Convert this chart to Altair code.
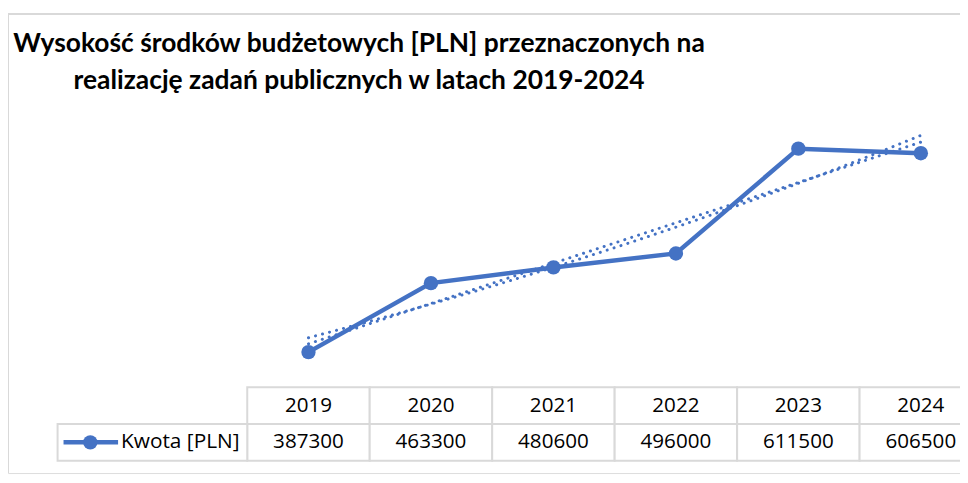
import altair as alt
import pandas as pd

# ---- data ----
years = [2019, 2020, 2021, 2022, 2023, 2024]
amounts = [387300, 463300, 480600, 496000, 611500, 606500]
series_name = "Kwota [PLN]"
title_lines = [
    "Wysokość środków budżetowych [PLN] przeznaczonych na",
    "realizację zadań publicznych w latach 2019-2024",
]

# ---- layout / style constants ----
BLUE = "#4472C4"
GRID = "#d9d9d9"
FONT = "Open Sans"
TITLE_FONT = "Lato"
W, H = 960, 463            # plot view (page x 8..968, y 12..475)
COL = 123.5                # px per year column
X0 = 2019 - (311.0 - 8) / COL
X1 = 2019 + (968 - 311.0) / COL


def px2x(page_px):
    return X0 + (page_px - 8) / COL


ROW_PX = 37.0
ROW_TOP = 376.5            # view px of table top
R0 = -ROW_TOP / ROW_PX
R1 = (H - ROW_TOP) / ROW_PX
Y_DOMAIN = [254000, 760000]
LEG_LEFT = px2x(58)

df = pd.DataFrame({"rok": years, "kwota": amounts})

xs = alt.Scale(domain=[X0, X1], nice=False, zero=False)
ys = alt.Scale(domain=Y_DOMAIN, nice=False, zero=False)
rs = alt.Scale(domain=[R0, R1], nice=False, zero=False, reverse=True)

base = alt.Chart(df)

trend_style = dict(color=BLUE, strokeWidth=3, strokeDash=[0.1, 7.2], strokeCap="round")
trend_lin = base.transform_regression("rok", "kwota", method="linear").mark_line(**trend_style).encode(
    x=alt.X("rok:Q", scale=xs, axis=None), y=alt.Y("kwota:Q", scale=ys, axis=None))
trend_exp = base.transform_regression("rok", "kwota", method="exp").mark_line(**trend_style).encode(
    x=alt.X("rok:Q", scale=xs, axis=None), y=alt.Y("kwota:Q", scale=ys, axis=None))

line = base.mark_line(color=BLUE, strokeWidth=4.5).encode(
    x=alt.X("rok:Q", scale=xs, axis=None), y=alt.Y("kwota:Q", scale=ys, axis=None))
pts = base.mark_point(filled=True, color=BLUE, size=210, opacity=1).encode(
    x=alt.X("rok:Q", scale=xs, axis=None), y=alt.Y("kwota:Q", scale=ys, axis=None))

# ---- data table under the chart ----
cells = pd.DataFrame({
    "x": [y - 0.5 for y in years] * 2 + [LEG_LEFT],
    "x2": [y + 0.5 for y in years] * 2 + [2018.5],
    "r": [0] * 6 + [1] * 6 + [1],
    "r2": [1] * 6 + [2] * 6 + [2],
})
cell_rects = alt.Chart(cells).mark_rect(fill="white", stroke=GRID, strokeWidth=2, clip=True).encode(
    x=alt.X("x:Q", scale=xs, axis=None), x2="x2:Q",
    y=alt.Y("r:Q", scale=rs, axis=None), y2="r2:Q")

labels = pd.DataFrame({
    "rok": years * 2,
    "r": [0.5] * 6 + [1.5] * 6,
    "t": [str(y) for y in years] + [str(a) for a in amounts],
})
cell_text = alt.Chart(labels).mark_text(font=FONT, fontSize=20.8, color="black", baseline="middle").encode(
    x=alt.X("rok:Q", scale=xs, axis=None), y=alt.Y("r:Q", scale=rs, axis=None), text="t:N")

leg = pd.DataFrame({"x": [px2x(64)], "x2": [px2x(119)], "xc": [px2x(91)], "xt": [px2x(122)],
                    "r": [1.5], "name": [series_name]})
leg_line = alt.Chart(leg).mark_rule(color=BLUE, strokeWidth=4.5).encode(
    x=alt.X("x:Q", scale=xs, axis=None), x2="x2:Q", y=alt.Y("r:Q", scale=rs, axis=None))
leg_pt = alt.Chart(leg).mark_point(filled=True, color=BLUE, size=210, opacity=1).encode(
    x=alt.X("xc:Q", scale=xs, axis=None), y=alt.Y("r:Q", scale=rs, axis=None))
leg_txt = alt.Chart(leg).mark_text(font=FONT, fontSize=21, color="black", align="left", baseline="middle").encode(
    x=alt.X("xt:Q", scale=xs, axis=None), y=alt.Y("r:Q", scale=rs, axis=None), text="name:N")

border_left = alt.Chart(df).mark_rule(color=GRID, strokeWidth=2).encode(
    x=alt.value(0), y=alt.value(0), y2=alt.value(H))
border_top = alt.Chart(df).mark_rule(color=GRID, strokeWidth=2).encode(
    x=alt.value(0), x2=alt.value(W), y=alt.value(0))

money = alt.layer(trend_lin, trend_exp, line, pts)
table = alt.layer(cell_rects, cell_text, leg_line, leg_pt, leg_txt)

chart = alt.layer(money, table, border_left, border_top).resolve_scale(y="independent").properties(
    width=W, height=H,
    autosize=alt.AutoSizeParams(type="none"),
    padding={"left": 0, "top": 4, "right": 0, "bottom": 0},
    title=alt.Title(text=title_lines, anchor="start", align="center", dx=354, frame="group",
                    font=TITLE_FONT, fontSize=26.6, fontWeight="bold", color="black",
                    lineHeight=37, baseline="alphabetic", offset=-103),
).configure_view(stroke=None).configure(background="white")

chart.save("out.html", embed_options={"renderer": "svg", "actions": False})
